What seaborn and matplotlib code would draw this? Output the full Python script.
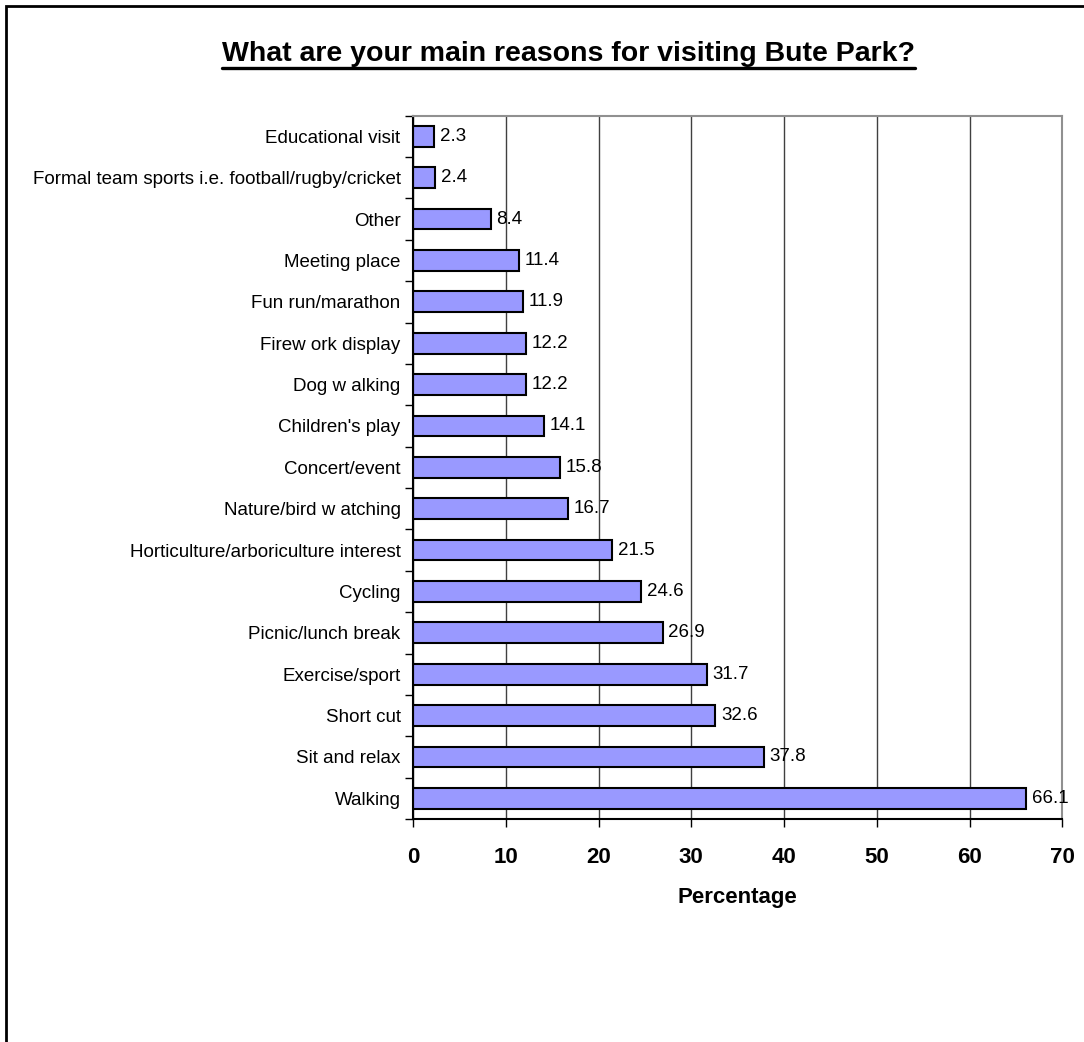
import numpy as np
import pandas as pd
import matplotlib
matplotlib.use("Agg")
import matplotlib.pyplot as plt
from matplotlib.lines import Line2D
from matplotlib.patches import Rectangle
import seaborn as sns

# Data (top to bottom)
reasons = [
    "Educational visit",
    "Formal team sports i.e. football/rugby/cricket",
    "Other",
    "Meeting place",
    "Fun run/marathon",
    "Firew ork display",
    "Dog w alking",
    "Children's play",
    "Concert/event",
    "Nature/bird w atching",
    "Horticulture/arboriculture interest",
    "Cycling",
    "Picnic/lunch break",
    "Exercise/sport",
    "Short cut",
    "Sit and relax",
    "Walking",
]
percent = [2.3, 2.4, 8.4, 11.4, 11.9, 12.2, 12.2, 14.1, 15.8, 16.7,
           21.5, 24.6, 26.9, 31.7, 32.6, 37.8, 66.1]
x_ticks = [0, 10, 20, 30, 40, 50, 60, 70]

df = pd.DataFrame({"Reason": reasons, "Percentage": percent})

sns.set_style("white")
plt.rcParams["font.family"] = ["Liberation Sans", "DejaVu Sans"]
plt.rcParams["text.color"] = "black"
plt.rcParams["axes.labelcolor"] = "black"
plt.rcParams["xtick.color"] = "black"
plt.rcParams["ytick.color"] = "black"

fig = plt.figure(figsize=(10.84, 10.42), dpi=100)
ax = fig.add_axes([0.381, 0.214, 0.599, 0.675])

sns.barplot(data=df, x="Percentage", y="Reason", order=reasons, orient="h",
            color="#9999FF", saturation=1, edgecolor="black", linewidth=1.5,
            width=0.5, ax=ax)

ax.set_xlim(0, 70)
ax.set_ylim(len(reasons) - 0.5, -0.5)
ax.set_xticks(x_ticks)
ax.set_xticklabels([str(t) for t in x_ticks], fontsize=16, fontweight="bold")
ax.tick_params(axis="x", bottom=True, direction="out", length=6, width=1,
               color="black", pad=14)

# category labels at band centres, tick marks at band boundaries
ax.set_yticks(np.arange(len(reasons)))
ax.set_yticklabels(reasons, fontsize=13.5)
ax.tick_params(axis="y", which="major", left=True, length=0, pad=9)
ax.set_yticks(np.arange(len(reasons) + 1) - 0.5, minor=True)
ax.tick_params(axis="y", which="minor", left=True, direction="out", length=6,
               width=1, color="black")

ax.set_xlabel("Percentage", fontsize=16, fontweight="bold", labelpad=14)
ax.set_ylabel("")

ax.grid(axis="x", color="#404040", linewidth=1)
ax.set_axisbelow(True)
for side in ["left", "bottom"]:
    ax.spines[side].set_color("black")
    ax.spines[side].set_linewidth(1.5)
for side in ["top", "right"]:
    ax.spines[side].set_color("#909090")
    ax.spines[side].set_linewidth(1.5)

for i, v in enumerate(percent):
    ax.text(v + 0.6, i, f"{v}", va="center", ha="left", fontsize=13.5)

# title with underline
title = fig.text(0.524, 0.948, "What are your main reasons for visiting Bute Park?",
                 ha="center", va="center", fontsize=20.5, fontweight="bold")
fig.canvas.draw()
bb = title.get_window_extent().transformed(fig.transFigure.inverted())
fig.add_artist(Line2D([bb.x0, bb.x1], [bb.y0 - 0.001, bb.y0 - 0.001],
                      color="black", linewidth=2.4, transform=fig.transFigure))

# outer frame of the chart area
fig.add_artist(Rectangle((6 / 1084, -0.05), 1.2, 1 - 6 / 1042 + 0.05,
                         fill=False, edgecolor="black", linewidth=2,
                         transform=fig.transFigure))

fig.savefig("out.png", dpi=100)
